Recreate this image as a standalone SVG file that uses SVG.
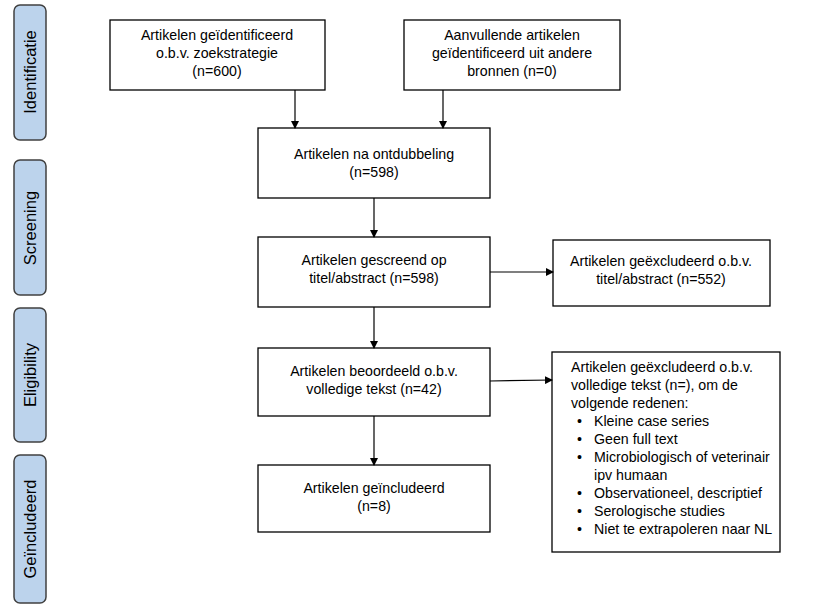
<svg xmlns="http://www.w3.org/2000/svg" width="820" height="609" viewBox="0 0 820 609">
<style>
.b{fill:#fff;stroke:#000;stroke-width:1.3}
.s{fill:#bcd3ec;stroke:#404040;stroke-width:1.5}
text{font-family:"Liberation Sans",Arial,sans-serif;font-size:14.2px;fill:#000}
.c{text-anchor:middle}
.v{font-size:16.5px;text-anchor:middle}
line{stroke:#000;stroke-width:1.2;marker-end:url(#a)}
</style>
<defs><marker id="a" markerWidth="8" markerHeight="8" refX="7" refY="4" orient="auto" markerUnits="userSpaceOnUse"><path d="M0,0 L8,4 L0,8 z" fill="#000"/></marker></defs>
<rect width="820" height="609" fill="#fff"/>
<g id="side">
<rect class="s" x="14" y="5" width="32" height="135" rx="6"/><text class="v" transform="translate(36,72) rotate(-90)">Identificatie</text>
<rect class="s" x="14" y="160" width="32" height="135" rx="6"/><text class="v" transform="translate(36,228) rotate(-90)">Screening</text>
<rect class="s" x="14" y="308" width="32" height="134" rx="6"/><text class="v" transform="translate(36,375) rotate(-90)">Eligibility</text>
<rect class="s" x="14" y="455" width="32" height="148" rx="6"/><text class="v" transform="translate(36,529) rotate(-90)">Geïncludeerd</text>
</g>
<g id="n1"><rect class="b" x="110" y="20" width="215" height="70"/><text class="c" x="217" y="40">Artikelen geïdentificeerd</text><text class="c" x="217" y="58">o.b.v. zoekstrategie</text><text class="c" x="217" y="76">(n=600)</text></g>
<g id="n2"><rect class="b" x="404" y="20" width="216" height="70"/><text class="c" x="512" y="40">Aanvullende artikelen</text><text class="c" x="512" y="58">geïdentificeerd uit andere</text><text class="c" x="512" y="76">bronnen (n=0)</text></g>
<g id="n3"><rect class="b" x="258" y="128" width="232" height="70"/><text class="c" x="374" y="159">Artikelen na ontdubbeling</text><text class="c" x="374" y="177">(n=598)</text></g>
<g id="n4"><rect class="b" x="258" y="237" width="232" height="70"/><text class="c" x="374" y="265">Artikelen gescreend op</text><text class="c" x="374" y="283">titel/abstract (n=598)</text></g>
<g id="n5"><rect class="b" x="553" y="240" width="217" height="66"/><text class="c" x="661" y="266">Artikelen geëxcludeerd o.b.v.</text><text class="c" x="661" y="284">titel/abstract (n=552)</text></g>
<g id="n6"><rect class="b" x="258" y="348" width="232" height="68"/><text class="c" x="374" y="376">Artikelen beoordeeld o.b.v.</text><text class="c" x="374" y="394">volledige tekst (n=42)</text></g>
<g id="n7"><rect class="b" x="552" y="352" width="228" height="200"/>
<text x="571" y="372">Artikelen geëxcludeerd o.b.v.</text><text x="571" y="390">volledige tekst (n=), om de</text><text x="571" y="408">volgende redenen:</text>
<text x="577" y="426">•</text><text x="594" y="426">Kleine case series</text>
<text x="577" y="444">•</text><text x="594" y="444">Geen full text</text>
<text x="577" y="462">•</text><text x="594" y="462">Microbiologisch of veterinair</text>
<text x="594" y="480">ipv humaan</text>
<text x="577" y="498">•</text><text x="594" y="498">Observationeel, descriptief</text>
<text x="577" y="516">•</text><text x="594" y="516">Serologische studies</text>
<text x="577" y="534">•</text><text x="594" y="534">Niet te extrapoleren naar NL</text></g>
<g id="n8"><rect class="b" x="258" y="465" width="232" height="67"/><text class="c" x="374" y="493">Artikelen geïncludeerd</text><text class="c" x="374" y="511">(n=8)</text></g>
<g id="edges">
<line x1="295" y1="90" x2="295" y2="128"/>
<line x1="443" y1="90" x2="443" y2="128"/>
<line x1="374" y1="198" x2="374" y2="237"/>
<line x1="374" y1="307" x2="374" y2="348"/>
<line x1="374" y1="416" x2="374" y2="465"/>
<line x1="490" y1="272" x2="553" y2="272"/>
<line x1="490" y1="381" x2="552" y2="380"/>
</g>
</svg>
